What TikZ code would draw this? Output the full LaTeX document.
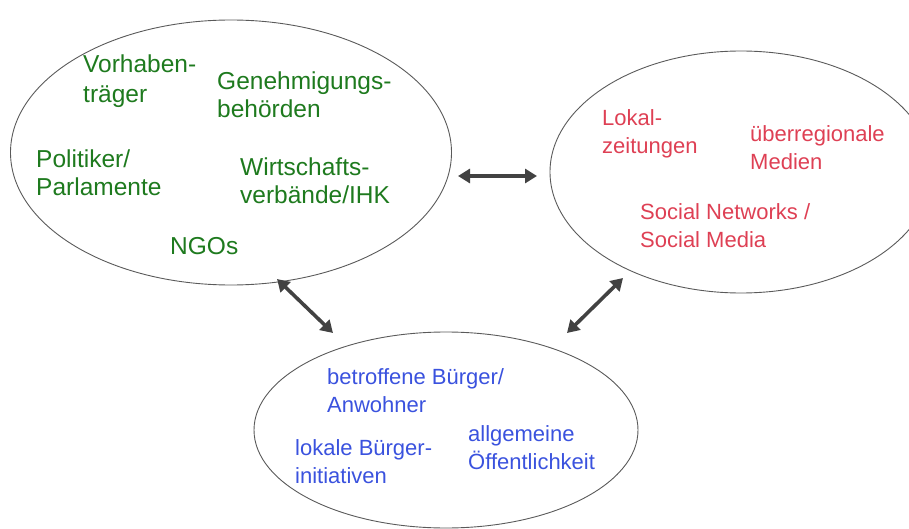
\documentclass[tikz,border=0pt]{standalone}
\usepackage{fontspec}
\setmainfont{Liberation Sans}
\usetikzlibrary{shapes.geometric,arrows.meta}
\definecolor{grn}{RGB}{30,122,30}
\definecolor{rd}{RGB}{222,64,84}
\definecolor{bl}{RGB}{58,82,222}
\definecolor{arr}{RGB}{66,66,66}
\definecolor{edge}{RGB}{90,90,90}
\tikzset{
  group/.style={ellipse, draw=edge, line width=0.9pt, inner sep=0pt, outer sep=0pt},
  gtext/.style={anchor=north west, inner sep=0pt, align=left, text=grn, font={\fontsize{24.5}{28}\selectfont}},
  rtext/.style={anchor=north west, inner sep=0pt, align=left, text=rd, font={\fontsize{22}{28}\selectfont}},
  btext/.style={anchor=north west, inner sep=0pt, align=left, text=bl, font={\fontsize{22}{28}\selectfont}},
  link/.style={draw=arr, line width=3.6pt, {Triangle[length=12pt,width=14pt]}-{Triangle[length=12pt,width=14pt]}, shorten <=0pt, shorten >=0pt}
}
\begin{document}
\begin{tikzpicture}[x=1pt,y=-1pt]
\useasboundingbox (0,0) rectangle (909,529);
% ellipses
\node[group, minimum width=441pt, minimum height=265pt] (left) at (231,152.5) {};
\node[group, minimum width=382pt, minimum height=242pt] (right) at (741,172) {};
\node[group, minimum width=384pt, minimum height=196pt] (bottom) at (446,430) {};
% green texts
\node[gtext, font={\fontsize{24.5}{30}\selectfont}] (vt) at (83,55) {Vorhaben-\\träger};
\node[gtext] (gb) at (217,72) {Genehmigungs-\\behörden};
\node[gtext] (pp) at (36,150) {Politiker/\\Parlamente};
\node[gtext] (wv) at (240,158) {Wirtschafts-\\verbände/IHK};
\node[gtext] (ngo) at (170,237) {NGOs};
% red texts
\node[rtext] (lz) at (602,109) {Lokal-\\zeitungen};
\node[rtext] (um) at (750,125) {überregionale\\Medien};
\node[rtext] (sn) at (640,203) {Social Networks /\\Social Media};
% blue texts
\node[btext] (ba) at (327,368) {betroffene Bürger/\\Anwohner};
\node[btext] (lb) at (295,439) {lokale Bürger-\\initiativen};
\node[btext] (ao) at (468,425) {allgemeine\\Öffentlichkeit};
% arrow ends
\coordinate (h1) at (458,176);
\coordinate (h2) at (537,176);
\coordinate (d1) at (277,279);
\coordinate (d2) at (333,333);
\coordinate (e1) at (567,333);
\coordinate (e2) at (623,278);
\draw[link] (h1) -- (h2);
\draw[link] (d1) -- (d2);
\draw[link] (e1) -- (e2);
\end{tikzpicture}
\end{document}
